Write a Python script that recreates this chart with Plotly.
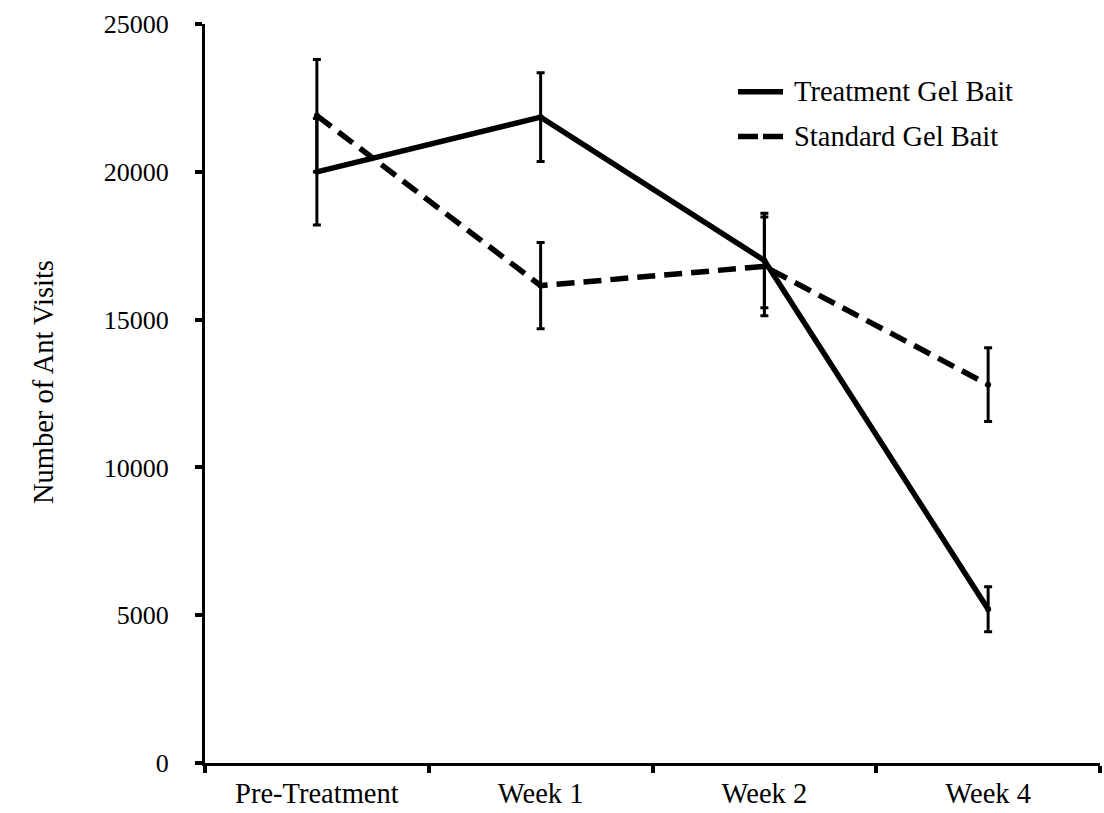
import plotly.graph_objects as go

# Ant visit counts per sampling period
categories = ["Pre-Treatment", "Week 1", "Week 2", "Week 4"]
treatment = [20000, 21850, 17000, 5200]
treatment_err = [1800, 1500, 1600, 760]
standard = [21900, 16150, 16800, 12800]
standard_err = [1900, 1460, 1670, 1250]
y_ticks = [0, 5000, 10000, 15000, 20000, 25000]
y_tick_labels = ["0", "5000", "10000", "15000", "20000", "25000"]
series_names = ["Treatment Gel Bait", "Standard Gel Bait"]

FONT = "Liberation Serif, Times New Roman, serif"
FS = 28.5
W, H = 1104, 813
L, R, T, B = 205, 4, 24, 46
PW, PH = W - L - R, H - T - B


def px_to_paper(x, y):
    return (x - L) / PW, (H - B - y) / PH


fig = go.Figure()

fig.add_trace(go.Scatter(
    x=categories, y=treatment, name=series_names[0], mode="lines+markers",
    line=dict(color="black", width=5.5),
    marker=dict(color="black", size=6),
    error_y=dict(type="data", array=treatment_err, color="black",
                 thickness=3, width=4),
    showlegend=False,
))
fig.add_trace(go.Scatter(
    x=categories, y=standard, name=series_names[1], mode="lines+markers",
    line=dict(color="black", width=5.5, dash="18px,9px"),
    marker=dict(color="black", size=6),
    error_y=dict(type="data", array=standard_err, color="black",
                 thickness=3, width=4),
    showlegend=False,
))

# Legend drawn as line samples with labels
shapes = []
annotations = []
for i, (name, dash) in enumerate(zip(series_names, ["solid", "20px,5px"])):
    py = 92 + i * 45
    x0, y0 = px_to_paper(738, py)
    x1, _ = px_to_paper(783, py)
    shapes.append(dict(type="line", xref="paper", yref="paper",
                       x0=x0, x1=x1, y0=y0, y1=y0,
                       line=dict(color="black", width=5.5, dash=dash)))
    tx, _ = px_to_paper(792, py)
    annotations.append(dict(xref="paper", yref="paper", x=tx, y=y0,
                            xanchor="left", yanchor="middle", showarrow=False,
                            text=name, font=dict(family=FONT, size=FS, color="black")))

# Y-axis title
ax, ay = px_to_paper(43, 384)
annotations.append(dict(xref="paper", yref="paper", x=ax, y=ay,
                        xanchor="center", yanchor="middle", showarrow=False,
                        textangle=-90, text="Number of Ant Visits",
                        font=dict(family=FONT, size=FS, color="black")))

fig.update_layout(
    width=W, height=H,
    margin=dict(l=L, r=R, t=T, b=B, pad=0),
    paper_bgcolor="white", plot_bgcolor="white",
    font=dict(family=FONT, size=FS, color="black"),
    shapes=shapes, annotations=annotations,
    showlegend=False,
)
fig.update_xaxes(
    type="category", range=[-0.5, 3.5],
    showline=True, linecolor="black", linewidth=3,
    ticks="outside", tickson="boundaries", ticklen=7, tickwidth=4,
    tickcolor="black", showgrid=False, zeroline=False,
    tickfont=dict(family=FONT, size=FS, color="black"),
    ticklabelstandoff=3,
)
fig.update_yaxes(
    range=[0, 25000], tickvals=y_ticks, ticktext=y_tick_labels,
    showline=True, linecolor="black", linewidth=3,
    ticks="outside", ticklen=7, tickwidth=4, tickcolor="black",
    showgrid=False, zeroline=False,
    tickfont=dict(family=FONT, size=26, color="black"),
    ticklabelstandoff=21,
)

fig.write_html("out.html")
